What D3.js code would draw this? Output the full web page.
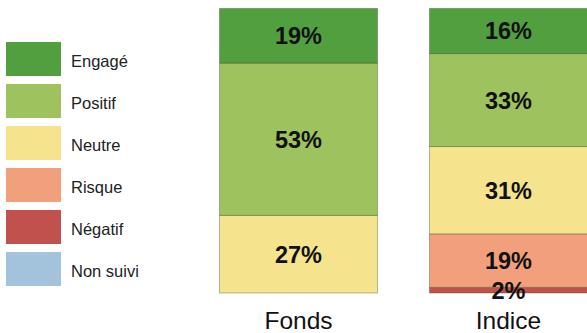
<!DOCTYPE html>
<html>
<head>
<meta charset="utf-8">
<script src="https://cdn.jsdelivr.net/npm/d3@7/dist/d3.min.js"></script>
<style>
  html, body { margin: 0; padding: 0; background: #fff; }
  svg { display: block; }
</style>
</head>
<body>
<svg id="chart" width="587" height="333"></svg>
<script>
// Sentiment categories, top to bottom of each bar
const categories = ["Engagé", "Positif", "Neutre", "Risque", "Négatif", "Non suivi"];
const colors = ["#529f40", "#9ec25e", "#f5e38d", "#f1a07b", "#c1514d", "#a3c2dc"];

// Bars and their shares (%) per category
const groups = ["Fonds", "Indice"];
const fondsValues = [19, 53, 27, 0, 0, 0];
const indiceValues = [16, 33, 31, 19, 2, 0];

const rows = groups.map((g, i) => {
  const vals = i === 0 ? fondsValues : indiceValues;
  const row = { group: g };
  categories.forEach((c, j) => { row[c] = vals[j]; });
  return row;
});

const svg = d3.select("#chart");

// Stack so that the first category sits on top; each bar fills its full height
const stack = d3.stack()
  .keys(categories.slice().reverse())
  .offset(d3.stackOffsetExpand);
const series = stack(rows);

const x = d3.scaleBand()
  .domain(groups)
  .range([219.5, 587.5])
  .paddingInner(52 / 210)
  .paddingOuter(0);

const y = d3.scaleLinear()
  .domain([0, 1])
  .range([293, 8.5]);

const color = d3.scaleOrdinal().domain(categories).range(colors);

const bars = svg.append("g");
series.forEach(s => {
  s.forEach((d, i) => {
    const v = d.data[s.key];
    if (!v) return;
    bars.append("rect")
      .attr("x", x(groups[i]))
      .attr("width", x.bandwidth())
      .attr("y", y(d[1]))
      .attr("height", y(d[0]) - y(d[1]))
      .attr("fill", color(s.key))
      .attr("stroke", "rgba(60,60,30,0.35)")
      .attr("stroke-width", 1);
  });
});

// Value labels, centred in each segment
const labels = svg.append("g")
  .attr("font-family", "Liberation Sans, Arial, sans-serif")
  .attr("font-weight", "bold")
  .attr("font-size", 23.5)
  .attr("fill", "#111")
  .attr("text-anchor", "middle");
series.forEach(s => {
  s.forEach((d, i) => {
    const v = d.data[s.key];
    if (!v) return;
    labels.append("text")
      .attr("x", x(groups[i]) + x.bandwidth() / 2)
      .attr("y", (y(d[0]) + y(d[1])) / 2)
      .attr("dy", "0.36em")
      .text(v + "%");
  });
});

// Category axis under the bars
const axis = svg.append("g")
  .attr("transform", "translate(0,293)")
  .call(d3.axisBottom(x).tickSize(0).tickPadding(0));
axis.select(".domain").remove();
axis.selectAll("text")
  .attr("dy", null)
  .attr("y", 36)
  .attr("font-family", "Liberation Sans, Arial, sans-serif")
  .attr("font-size", 24.5)
  .attr("fill", "#111");

// Legend
const legend = svg.append("g")
  .attr("font-family", "Liberation Sans, Arial, sans-serif")
  .attr("font-size", 16.5);
const ly = d3.scalePoint().domain(categories).range([42, 252]);
categories.forEach(c => {
  legend.append("rect")
    .attr("x", 6).attr("y", ly(c))
    .attr("width", 55).attr("height", 34)
    .attr("fill", color(c));
  legend.append("text")
    .attr("x", 71).attr("y", ly(c) + 24.5)
    .attr("fill", "#222")
    .text(c);
});
</script>
</body>
</html>
